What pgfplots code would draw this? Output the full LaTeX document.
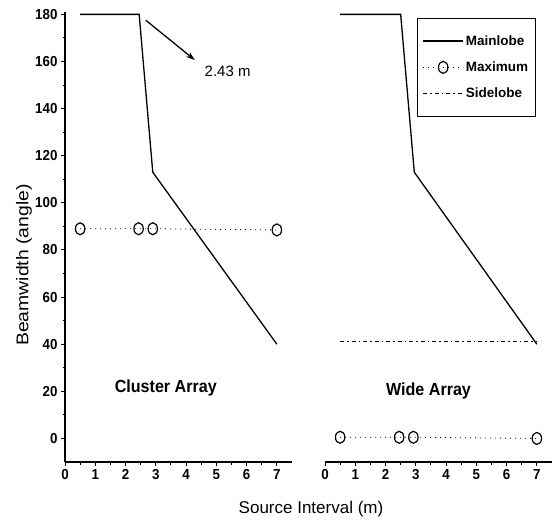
\documentclass[border=0pt]{standalone}
\usepackage{fontspec}
\setmainfont{Liberation Sans}
\newfontfamily\narrowfont{Liberation Sans}[FakeStretch=0.92]
\usepackage{pgfplots}
\pgfplotsset{compat=1.18}
\usetikzlibrary{arrows.meta}
\begin{document}
\begin{tikzpicture}
\useasboundingbox (-65pt,-61pt) rectangle (491pt,462pt);
\pgfplotsset{
  common/.style={
    scale only axis, width=227pt, height=450pt,
    xmin=0, xmax=7.5, ymin=-10, ymax=181,
    xtick={0,...,7}, minor x tick num=1,
    tick align=outside, major tick length=4pt, minor tick length=2.5pt,
    tick style={black, line width=1pt},
    axis line style={line width=1.6pt},
    ticklabel style={font=\narrowfont\fontsize{14.5}{16}\selectfont\bfseries},
    /pgf/number format/assume math mode=true,
    clip=false,
  },
  mainl/.style={black, line width=1.3pt, mark=none},
  maxi/.style={black, line width=0.8pt, dash pattern=on 1pt off 4pt, mark=o, mark size=6pt, mark options={solid, xscale=0.78, line width=1.2pt}},
  side/.style={black, line width=1pt, dash pattern=on 4pt off 3pt on 1.5pt off 3pt, mark=none},
}
% Cluster array
\begin{axis}[common, at={(0pt,0pt)}, anchor=south west,
  axis lines*=left,
  ytick={0,20,...,180}, minor y tick num=1]
\addplot[mainl] coordinates {(0.5,180) (2.45,180) (2.9,113) (7,40)};
\addplot[maxi] coordinates {(0.5,89) (2.43,89) (2.9,89) (7,88.5)};
\draw[line width=1.3pt, -{Stealth[length=9pt,width=6pt]}] (axis cs:2.67,177.5) -- (axis cs:4.29,160.6);
\node[anchor=west, font=\fontsize{15}{17}\selectfont] at (axis cs:4.5,156) {2.43 m};
\node[font=\narrowfont\fontsize{17.5}{19}\selectfont\bfseries] at (axis cs:3.33,21.6) {Cluster Array};
\end{axis}
% Wide array
\begin{axis}[common, at={(260pt,0pt)}, anchor=south west,
  axis x line*=bottom, axis y line=none, ytick=\empty,
  legend style={at={(0.405,0.987)}, anchor=north west, draw=black, line width=1.2pt,
    font=\fontsize{13.5}{15}\selectfont\bfseries, row sep=11pt, inner xsep=5pt, inner ysep=15pt},
  legend cell align=left,
  legend image code/.code={\draw[mark repeat=2,mark phase=2,#1] plot coordinates {(0pt,0pt)(20pt,0pt)(40pt,0pt)};}]
\addplot[mainl] coordinates {(0.5,180) (2.5,180) (2.95,113) (7,40)};
\addlegendentry{Mainlobe}
\addplot[maxi] coordinates {(0.5,0.5) (2.45,0.5) (2.92,0.5) (7,0)};
\addlegendentry{Maximum}
\addplot[side] coordinates {(0.5,41) (7,41)};
\addlegendentry{Sidelobe}
\node[font=\narrowfont\fontsize{17.5}{19}\selectfont\bfseries] at (axis cs:3.42,20) {Wide Array};
\end{axis}
\node[font=\fontsize{17}{19}\selectfont] at (246pt,-47pt) {Source Interval (m)};
\node[rotate=90, font=\fontsize{17}{19}\selectfont] at (-41pt,197pt) {\scalebox{1.14}[1]{Beamwidth (angle)}};
\end{tikzpicture}
\end{document}
